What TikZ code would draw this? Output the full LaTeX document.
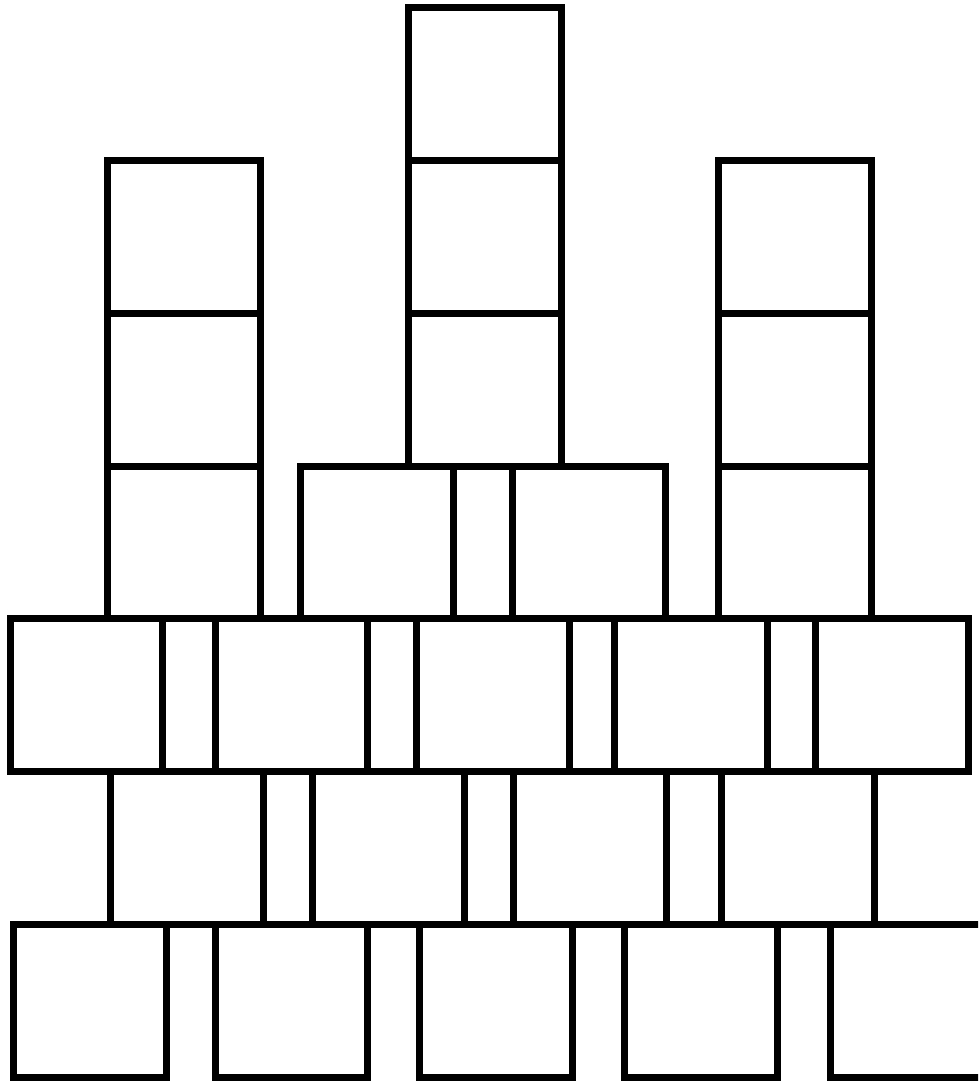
\documentclass[tikz,border=0pt]{standalone}
\begin{document}
\begin{tikzpicture}[x=1pt,y=-1pt,
  sq/.style={draw=black,line width=7pt,line join=miter}]
\useasboundingbox (0,0) rectangle (978,1081);
\clip (0,0) rectangle (978,1081);
\def\ya{7.5}\def\yb{160.4}\def\yc{313.2}\def\yd{466.1}
\def\ye{618.9}\def\yf{771.8}\def\yg{924.7}\def\yh{1077.5}
% left column
\draw[sq] (107,\yb) rectangle (260,\yc);
\draw[sq] (107,\yc) rectangle (260,\yd);
\draw[sq] (107,\yd) rectangle (260,\ye);
% centre column
\draw[sq] (408,\ya) rectangle (561,\yb);
\draw[sq] (408,\yb) rectangle (561,\yc);
\draw[sq] (408,\yc) rectangle (561,\yd);
% right column
\draw[sq] (718,\yb) rectangle (871,\yc);
\draw[sq] (718,\yc) rectangle (871,\yd);
\draw[sq] (718,\yd) rectangle (871,\ye);
% middle pair
\draw[sq] (300,\yd) rectangle (453.5,\ye);
\draw[sq] (512.5,\yd) rectangle (665,\ye);
% row A
\draw[sq] (10,\ye) rectangle (162.5,\yf);
\draw[sq] (215,\ye) rectangle (367.5,\yf);
\draw[sq] (416,\ye) rectangle (569,\yf);
\draw[sq] (614,\ye) rectangle (767,\yf);
\draw[sq] (815,\ye) rectangle (968,\yf);
% row B
\draw[sq] (110.7,\yf) rectangle (263.3,\yg);
\draw[sq] (312,\yf) rectangle (464.7,\yg);
\draw[sq] (513,\yf) rectangle (666,\yg);
\draw[sq] (721.5,\yf) rectangle (874.5,\yg);
% row C
\draw[sq] (13.3,\yg) rectangle (166.5,\yh);
\draw[sq] (215,\yg) rectangle (367.7,\yh);
\draw[sq] (419.7,\yg) rectangle (572.7,\yh);
\draw[sq] (624.8,\yg) rectangle (777.5,\yh);
\draw[sq] (830,\yg) rectangle (983,\yh);
\end{tikzpicture}
\end{document}
